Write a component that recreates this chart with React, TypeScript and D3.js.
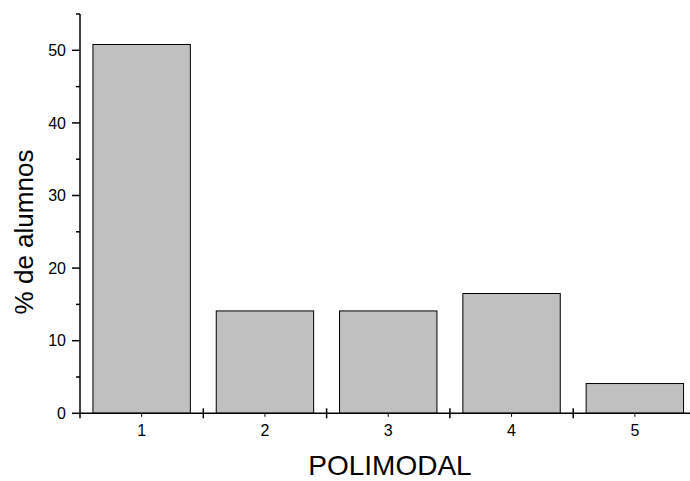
import { useEffect, useRef } from 'react'
import * as d3 from 'd3'

const categories = ['1', '2', '3', '4', '5']
const percentages = [50.8, 14.1, 14.1, 16.5, 4.1]
const majorTicks = [0, 10, 20, 30, 40, 50]
const minorTicks = [5, 15, 25, 35, 45, 55]

const App: React.FC = () => {
    const ref = useRef<SVGSVGElement | null>(null)

    useEffect(() => {
        const width = 690
        const height = 481
        const left = 80
        const bottom = 413.3
        const top = 14
        const font = 'Liberation Sans, Arial, sans-serif'

        const svg = d3.select(ref.current)
        svg.selectAll('*').remove()

        // Scales
        const y = d3.scaleLinear().domain([0, 55]).range([bottom, top])
        const x = d3
            .scaleBand()
            .domain(categories)
            .range([left, left + 123.3 * categories.length])
            .paddingInner(0.21)
            .paddingOuter(0.105)
        const step = x.step()

        // Bars
        svg.append('g')
            .selectAll()
            .data(percentages)
            .join('rect')
            .attr('x', (d, i) => x(categories[i]) as number)
            .attr('y', (d) => y(d))
            .attr('width', x.bandwidth())
            .attr('height', (d) => bottom - y(d))
            .attr('fill', '#c0c0c0')
            .attr('stroke', '#000')
            .attr('stroke-width', 1)

        const axes = svg.append('g').attr('stroke', '#000').attr('stroke-width', 1.5)

        // Y axis line + ticks
        axes.append('line')
            .attr('x1', left)
            .attr('x2', left)
            .attr('y1', y(55))
            .attr('y2', bottom + 5)
        axes.append('g')
            .selectAll()
            .data(majorTicks)
            .join('line')
            .attr('x1', left - 8)
            .attr('x2', left)
            .attr('y1', (d) => y(d))
            .attr('y2', (d) => y(d))
        axes.append('g')
            .selectAll()
            .data(minorTicks)
            .join('line')
            .attr('x1', left - 4)
            .attr('x2', left)
            .attr('y1', (d) => y(d))
            .attr('y2', (d) => y(d))

        // X axis line + ticks between categories
        axes.append('line')
            .attr('x1', left)
            .attr('x2', width)
            .attr('y1', bottom)
            .attr('y2', bottom)
        axes.append('g')
            .selectAll()
            .data(categories.slice(1))
            .join('line')
            .attr('x1', (d) => (x(d) as number) - step * 0.105)
            .attr('x2', (d) => (x(d) as number) - step * 0.105)
            .attr('y1', bottom - 5)
            .attr('y2', bottom + 5)
        axes.append('g')
            .selectAll()
            .data(categories)
            .join('line')
            .attr('x1', (d) => (x(d) as number) + x.bandwidth() / 2)
            .attr('x2', (d) => (x(d) as number) + x.bandwidth() / 2)
            .attr('y1', bottom)
            .attr('y2', bottom + 3.5)
            .attr('stroke-width', 1)

        // Tick labels
        svg.append('g')
            .selectAll()
            .data(majorTicks)
            .join('text')
            .attr('x', left - 14)
            .attr('y', (d) => y(d))
            .attr('dy', '0.35em')
            .attr('text-anchor', 'end')
            .attr('font-family', font)
            .attr('font-size', 16)
            .text((d) => d)

        svg.append('g')
            .selectAll()
            .data(categories)
            .join('text')
            .attr('x', (d) => (x(d) as number) + x.bandwidth() / 2)
            .attr('y', 436)
            .attr('text-anchor', 'middle')
            .attr('font-family', font)
            .attr('font-size', 16)
            .text((d) => d)

        // Axis titles
        svg.append('text')
            .attr('x', 390)
            .attr('y', 475)
            .attr('text-anchor', 'middle')
            .attr('font-family', font)
            .attr('font-size', 28)
            .text('POLIMODAL')

        svg.append('text')
            .attr('transform', 'translate(33,232) rotate(-90)')
            .attr('text-anchor', 'middle')
            .attr('font-family', font)
            .attr('font-size', 26)
            .text('% de alumnos')

        svg.attr('width', width).attr('height', height)
    }, [])

    return (
        <svg
            ref={ref}
            width={690}
            height={481}
            style={{ position: 'absolute', left: 0, top: 0, background: '#fff' }}
        />
    )
}

export default App
